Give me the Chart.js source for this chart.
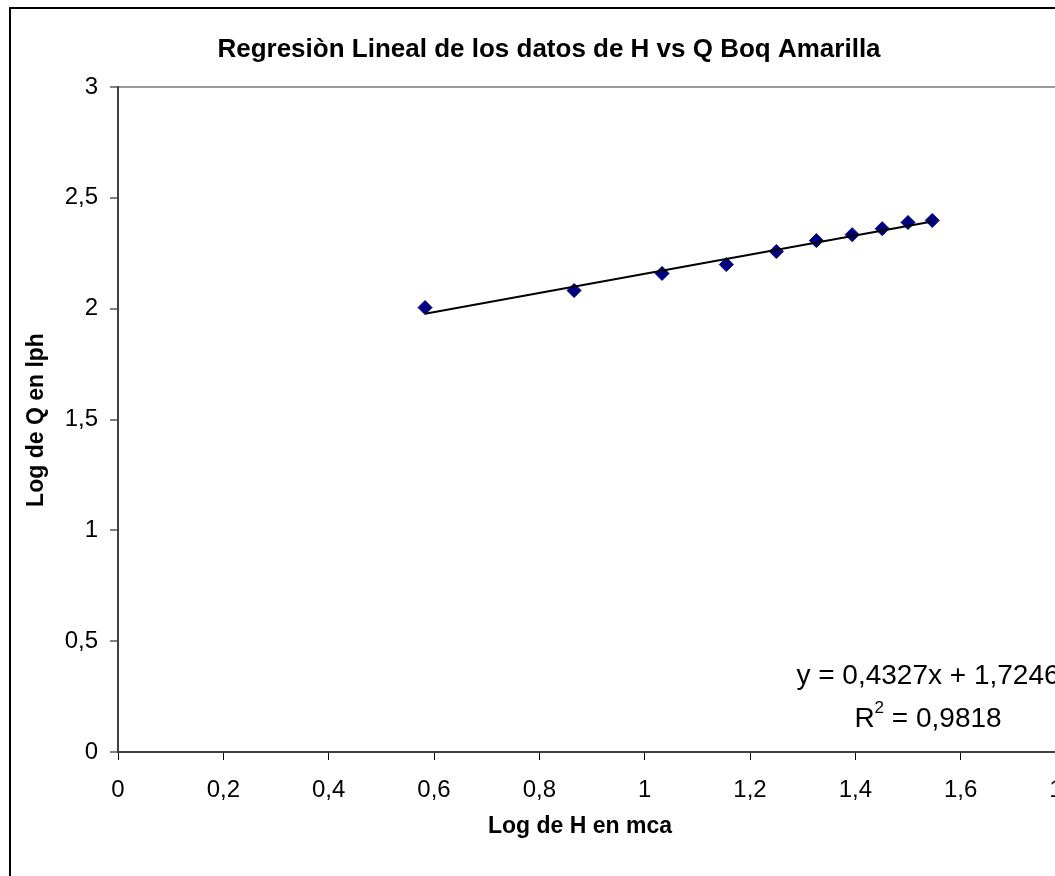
<!DOCTYPE html>
<html>
<head>
<meta charset="utf-8">
<title>Regresiòn Lineal H vs Q</title>
<script src="https://cdn.jsdelivr.net/npm/chart.js@4.4.1/dist/chart.umd.min.js"></script>
<style>
  html, body { margin: 0; padding: 0; background: #fff; overflow: hidden; width: 1055px; height: 876px; }
  canvas { display: block; }
</style>
</head>
<body>
<canvas id="regresion" width="1130" height="876"></canvas>
<script>
// log10 de la altura (mca) y del caudal (lph), boquilla amarilla
const logH = [0.583, 0.866, 1.033, 1.155, 1.250, 1.326, 1.394, 1.451, 1.500, 1.546];
const logQ = [2.005, 2.082, 2.159, 2.199, 2.258, 2.307, 2.334, 2.361, 2.389, 2.398];

// recta de ajuste
const slope = 0.4327;
const intercept = 1.7246;
const r2 = 0.9818;

const xTicks = { min: 0, max: 1.8, step: 0.2 };
const yTicks = { min: 0, max: 3, step: 0.5 };

const titleText = "Regresiòn Lineal de los datos de H vs Q Boq Amarilla";
const xTitle = "Log de H en mca";
const yTitle = "Log de Q en lph";

const FONT = '"Liberation Sans", Arial, sans-serif';

const coma = v => String(Math.round(v * 10000) / 10000).replace(".", ",");

const puntos = logH.map((x, i) => ({ x: x, y: logQ[i] }));
const xIni = Math.min(...logH);
const xFin = Math.max(...logH);
const recta = [
  { x: xIni, y: slope * xIni + intercept },
  { x: xFin, y: slope * xFin + intercept },
];

// marco exterior del gráfico
const marco = {
  id: "marco",
  beforeDraw(chart) {
    const ctx = chart.ctx;
    ctx.save();
    ctx.fillStyle = "#fff";
    ctx.fillRect(0, 0, chart.width, chart.height);
    ctx.strokeStyle = "#000";
    ctx.lineWidth = 2;
    ctx.beginPath();
    ctx.moveTo(10, chart.height);
    ctx.lineTo(10, 8);
    ctx.lineTo(chart.width, 8);
    ctx.stroke();
    ctx.restore();
  },
};

// títulos y ecuación de la recta
const textos = {
  id: "textos",
  afterDraw(chart) {
    const ctx = chart.ctx;
    ctx.save();
    ctx.fillStyle = "#000";
    ctx.textAlign = "center";
    ctx.textBaseline = "alphabetic";

    ctx.font = "bold 26px " + FONT;
    ctx.fillText(titleText, 549, 57);

    ctx.font = "bold 23px " + FONT;
    ctx.fillText(xTitle, 580, 833);

    ctx.save();
    ctx.translate(43, 420);
    ctx.rotate(-Math.PI / 2);
    ctx.fillText(yTitle, 0, 0);
    ctx.restore();

    // ecuación
    const cx = 928;
    ctx.font = "28px " + FONT;
    const linea1 = "y = " + coma(slope) + "x + " + coma(intercept);
    ctx.fillText(linea1, cx, 684);

    const resto = " = " + coma(r2);
    const wR = ctx.measureText("R").width;
    const wResto = ctx.measureText(resto).width;
    ctx.font = "17px " + FONT;
    const wSup = ctx.measureText("2").width;
    let x = cx - (wR + wSup + wResto) / 2;
    ctx.textAlign = "left";
    ctx.font = "28px " + FONT;
    ctx.fillText("R", x, 727);
    x += wR;
    ctx.font = "17px " + FONT;
    ctx.fillText("2", x, 713);
    x += wSup;
    ctx.font = "28px " + FONT;
    ctx.fillText(resto, x, 727);
    ctx.restore();
  },
};

new Chart(document.getElementById("regresion"), {
  type: "scatter",
  data: {
    datasets: [
      {
        type: "line",
        label: "Lineal",
        data: recta,
        borderColor: "#000",
        borderWidth: 2,
        pointRadius: 0,
        fill: false,
        order: 0,
      },
      {
        label: "Datos",
        data: puntos,
        pointStyle: "rectRot",
        pointRadius: 7,
        backgroundColor: "#000080",
        borderColor: "#000080",
        borderWidth: 1,
        order: 1,
      },
    ],
  },
  options: {
    responsive: false,
    animation: false,
    layout: { padding: { top: 87, right: 64, bottom: 0, left: 0 } },
    plugins: {
      legend: { display: false },
      tooltip: { enabled: false },
    },
    scales: {
      x: {
        type: "linear",
        min: xTicks.min,
        max: xTicks.max,
        afterFit: s => { s.height = 124; },
        ticks: {
          stepSize: xTicks.step,
          color: "#000",
          padding: 16,
          font: { family: FONT, size: 24 },
          callback: v => coma(v),
        },
        grid: { drawOnChartArea: false, tickLength: 8, tickColor: "#000", tickWidth: 1 },
        border: { color: "#404040", width: 2 },
      },
      y: {
        type: "linear",
        min: yTicks.min,
        max: yTicks.max,
        afterFit: s => { s.width = 118; },
        ticks: {
          stepSize: yTicks.step,
          color: "#000",
          padding: 12,
          font: { family: FONT, size: 24 },
          callback: v => coma(v),
        },
        grid: {
          color: c => (c.tick && c.tick.value === yTicks.max ? "#999" : "transparent"),
          lineWidth: 2,
          tickLength: 8,
          tickColor: "#000",
          tickWidth: 1,
        },
        border: { color: "#404040", width: 2 },
      },
    },
  },
  plugins: [marco, textos],
});
</script>
</body>
</html>
